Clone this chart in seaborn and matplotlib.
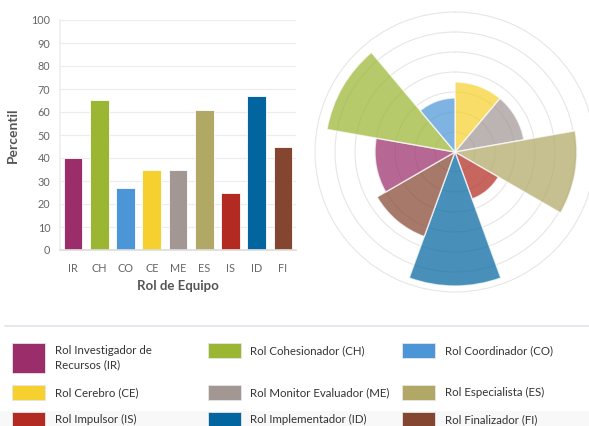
import matplotlib
matplotlib.use("Agg")
import matplotlib.pyplot as plt
import seaborn as sns
import numpy as np
import pandas as pd
from matplotlib.patches import Rectangle
from matplotlib.lines import Line2D

# ---- data ----
roles = ["IR", "CH", "CO", "CE", "ME", "ES", "IS", "ID", "FI"]
values = [40, 65, 27, 35, 35, 61, 25, 67, 45]
colors = ["#9b2d6a", "#9ab633", "#4c96d7", "#f6d02f", "#a39794",
          "#b1a865", "#b22a22", "#02659f", "#844630"]
legend_labels = ["Rol Investigador de\nRecursos (IR)", "Rol Cohesionador (CH)",
                 "Rol Coordinador (CO)", "Rol Cerebro (CE)",
                 "Rol Monitor Evaluador (ME)", "Rol Especialista (ES)",
                 "Rol Impulsor (IS)", "Rol Implementador (ID)",
                 "Rol Finalizador (FI)"]
polar_order = ["CE", "ME", "ES", "IS", "ID", "FI", "IR", "CH", "CO"]

sns.set_theme(style="white")
plt.rcParams["font.family"] = ["Lato", "DejaVu Sans"]

W, H = 589, 426
fig = plt.figure(figsize=(W / 100, H / 100), dpi=100)
fig.patch.set_facecolor("white")

def fx(px):
    return px / W

def fy(py):
    return 1 - py / H

# ---- bar chart ----
ax = fig.add_axes([fx(60), fy(250), fx(296) - fx(60), fy(20) - fy(250)])
df = pd.DataFrame({"role": roles, "value": values})
palette = dict(zip(roles, colors))
sns.barplot(data=df, x="role", y="value", hue="role", palette=palette,
            order=roles, width=0.71, saturation=1, legend=False, ax=ax,
            edgecolor="white", linewidth=0.6)
ax.set_ylim(0, 100)
ax.set_xlim(-0.5, 8.5)
ax.set_yticks(range(0, 101, 10))
ax.yaxis.grid(True, color="#ececec", linewidth=0.8)
ax.set_axisbelow(True)
for s in ["top", "right"]:
    ax.spines[s].set_visible(False)
ax.spines["left"].set_color("#eeeeee")
ax.spines["bottom"].set_color("#dddddd")
ax.tick_params(axis="both", length=0, labelsize=7.8, labelcolor="#666666")
ax.tick_params(axis="x", pad=9)
ax.tick_params(axis="y", pad=7)
ax.set_xlabel("Rol de Equipo", fontsize=9.5, fontweight="bold", color="#555555", labelpad=5)
ax.set_ylabel("Percentil", fontsize=10, fontweight="bold", color="#555555", labelpad=9)

# ---- polar chart ----
R_px = 141
cx, cy = 455, 152
pax = fig.add_axes([fx(cx - R_px), fy(cy + R_px), fx(2 * R_px), fy(0) - fy(2 * R_px)],
                   projection="polar")
pax.set_theta_zero_location("N")
pax.set_theta_direction(-1)
n = len(polar_order)
step = 2 * np.pi / n
thetas = (np.arange(n) + 0.5) * step
pvals = [values[roles.index(r)] for r in polar_order]
pcols = [colors[roles.index(r)] for r in polar_order]
pax.bar(thetas, pvals, width=step, color=pcols, alpha=0.72,
        edgecolor="white", linewidth=1.0, zorder=2)
pax.set_ylim(0, 70.5)
pax.set_yticks(range(10, 71, 10))
pax.set_yticklabels([])
pax.set_xticks([])
pax.yaxis.grid(True, color="#e6e6e6", linewidth=0.8)
pax.xaxis.grid(False)
pax.spines["polar"].set_visible(False)
pax.set_facecolor("none")

# ---- legend ----
fig.add_artist(Line2D([fx(5), fx(589)], [fy(326), fy(326)], color="#e2e2ea",
                      linewidth=1.2, transform=fig.transFigure))
fig.add_artist(Rectangle((0, 0), 1, fy(411), transform=fig.transFigure,
                         facecolor="#f8f8f8", edgecolor="none", zorder=0))

col_sw = [12, 208, 402]
col_tx = [55, 250, 445]
row_y = [343, 385, 412]
for i, (lab, col) in enumerate(zip(legend_labels, colors)):
    r, c = divmod(i, 3)
    top = row_y[r]
    h = 30 if i == 0 else 14.5
    fig.add_artist(Rectangle((fx(col_sw[c]), fy(top + h)), fx(33), fy(0) - fy(h),
                             transform=fig.transFigure, facecolor=col,
                             edgecolor="#e6e6e6", linewidth=0.6, zorder=2))
    fig.text(fx(col_tx[c]), fy(top + (15 if i == 0 else 7.5)), lab, fontsize=8.3,
             color="#333333", va="center", ha="left", linespacing=1.35)

fig.savefig("out.png", dpi=100)
